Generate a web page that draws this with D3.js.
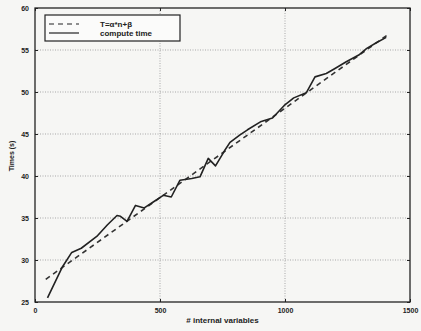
<!DOCTYPE html>
<html>
<head>
<meta charset="utf-8">
<script src="https://cdn.jsdelivr.net/npm/d3@7"></script>
<style>
  body { margin: 0; background: #f6f6f4; }
  text { font-family: "Liberation Sans", Arial, sans-serif; fill: #222; }
</style>
</head>
<body>
<div id="chart"></div>
<script>
const width = 421;
const height = 331;

// measured compute time, # internal variables vs seconds
const nVars = [50, 110, 147, 185, 247, 290, 328, 342, 368, 402, 437, 473, 513, 545, 580, 627, 660, 693, 722, 758,
  780, 820, 850, 905, 950, 997, 1035, 1085, 1120, 1165, 1200, 1245, 1295, 1327, 1367, 1405];
const times = [25.5, 29.2, 30.9, 31.4, 32.8, 34.2, 35.3, 35.2, 34.6, 36.5, 36.2, 36.9, 37.7, 37.5, 39.5, 39.7, 39.9, 42.1, 41.2, 43.0,
  44.0, 44.9, 45.5, 46.5, 46.9, 48.4, 49.3, 49.9, 51.8, 52.2, 52.8, 53.6, 54.4, 55.2, 55.9, 56.5];

// fitted line T = a*n + b, endpoints
const fitN = [43, 1410];
const fitT = [27.7, 56.8];

const xTicks = [0, 500, 1000, 1500];
const yTicks = [25, 30, 35, 40, 45, 50, 55, 60];

const margin = ({top: 8, right: 11, bottom: 29, left: 35});

const svg = d3.select("#chart").append("svg")
  .attr("width", width)
  .attr("height", height);

const x = d3.scaleLinear()
  .domain([0, 1500])
  .range([margin.left, width - margin.right]);

const y = d3.scaleLinear()
  .domain([25, 60])
  .range([height - margin.bottom, margin.top]);

// dotted grid
svg.append("g")
  .selectAll("line")
  .data(xTicks.slice(1, -1))
  .join("line")
    .attr("x1", d => x(d)).attr("x2", d => x(d))
    .attr("y1", y(60)).attr("y2", y(25))
    .attr("stroke", "#888")
    .attr("stroke-width", 0.7)
    .attr("stroke-dasharray", "1,1.5");

svg.append("g")
  .selectAll("line")
  .data(yTicks.slice(1, -1))
  .join("line")
    .attr("x1", x(0)).attr("x2", x(1500))
    .attr("y1", d => y(d)).attr("y2", d => y(d))
    .attr("stroke", "#888")
    .attr("stroke-width", 0.7)
    .attr("stroke-dasharray", "1,1.5");

const xAxis = g => g
  .attr("transform", `translate(0,${height - margin.bottom})`)
  .call(d3.axisBottom(x).tickValues(xTicks).tickFormat(d3.format("d")).tickSizeInner(-3).tickSizeOuter(0).tickPadding(6))
  .call(g => g.select(".domain").remove())
  .call(g => g.selectAll("text").attr("font-size", 7).attr("font-weight", "bold"));

const xAxisTop = g => g
  .attr("transform", `translate(0,${margin.top})`)
  .call(d3.axisTop(x).tickValues(xTicks).tickSizeInner(-3).tickSizeOuter(0).tickFormat(""))
  .call(g => g.select(".domain").remove());

const yAxis = g => g
  .attr("transform", `translate(${margin.left},0)`)
  .call(d3.axisLeft(y).tickValues(yTicks).tickSizeInner(-3).tickSizeOuter(0).tickPadding(6))
  .call(g => g.select(".domain").remove())
  .call(g => g.selectAll("text").attr("font-size", 7).attr("font-weight", "bold"));

const yAxisRight = g => g
  .attr("transform", `translate(${width - margin.right},0)`)
  .call(d3.axisRight(y).tickValues(yTicks).tickSizeInner(-3).tickSizeOuter(0).tickFormat(""))
  .call(g => g.select(".domain").remove());

svg.append("g").call(xAxis);
svg.append("g").call(xAxisTop);
svg.append("g").call(yAxis);
svg.append("g").call(yAxisRight);
svg.selectAll(".tick line").attr("stroke", "#222").attr("stroke-width", 1);

// frame
svg.append("rect")
  .attr("x", x(0)).attr("y", y(60))
  .attr("width", x(1500) - x(0)).attr("height", y(25) - y(60))
  .attr("fill", "none")
  .attr("stroke", "#222")
  .attr("stroke-width", 1.3);

const line = d3.line()
  .x(d => x(d[0]))
  .y(d => y(d[1]));

svg.append("path")
  .datum(d3.zip(fitN, fitT))
  .attr("fill", "none")
  .attr("stroke", "#333")
  .attr("stroke-width", 1.6)
  .attr("stroke-dasharray", "5,4")
  .attr("d", line);

svg.append("path")
  .datum(d3.zip(nVars, times))
  .attr("fill", "none")
  .attr("stroke", "#222")
  .attr("stroke-width", 1.6)
  .attr("stroke-linejoin", "round")
  .attr("d", line);

// labels
svg.append("text")
  .attr("x", x(750)).attr("y", height - 8)
  .attr("text-anchor", "middle")
  .attr("font-size", 8)
  .attr("font-weight", "bold")
  .text("# internal variables");

svg.append("text")
  .attr("transform", `translate(14,${y(40) - 20}) rotate(-90)`)
  .attr("text-anchor", "middle")
  .attr("font-size", 7)
  .attr("font-weight", "bold")
  .text("Times (s)");

// legend
const legend = svg.append("g").attr("transform", "translate(45,15)");
legend.append("rect")
  .attr("width", 135).attr("height", 26)
  .attr("fill", "#fbfbfa")
  .attr("stroke", "#222")
  .attr("stroke-width", 1.2);

const legendItems = [
  {label: "T=α*n+β", dash: "5,4"},
  {label: "compute time", dash: null}
];

legendItems.forEach((d, i) => {
  const ly = 9 + i * 9;
  legend.append("line")
    .attr("x1", 4).attr("x2", 34)
    .attr("y1", ly).attr("y2", ly)
    .attr("stroke", "#222")
    .attr("stroke-width", 1.2)
    .attr("stroke-dasharray", d.dash);
  legend.append("text")
    .attr("x", 55).attr("y", ly + 3)
    .attr("font-size", 8)
    .attr("font-weight", "bold")
    .text(d.label);
});
</script>
</body>
</html>
